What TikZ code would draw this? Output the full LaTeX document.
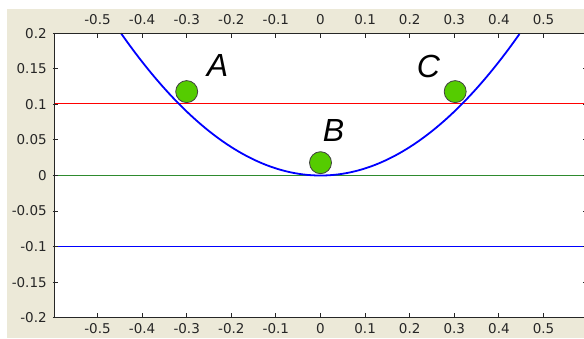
\documentclass[tikz,border=0pt]{standalone}
\usepackage{fontspec}
\setmainfont{Liberation Sans}
\newfontfamily\tickfont{DejaVu Sans}
\definecolor{beige}{HTML}{ECE9D8}
\definecolor{ballgreen}{HTML}{55CC00}
\definecolor{linegreen}{HTML}{2E8B2E}
\definecolor{linered}{HTML}{FF0000}
\definecolor{lineblue}{HTML}{0000FF}
\begin{document}
\begin{tikzpicture}[x=1pt,y=1pt,
  ticklabel/.style={font=\tickfont\fontsize{13.5}{13.5}\selectfont, inner sep=0pt, text=black!85},
  letterlabel/.style={font=\fontsize{32}{32}\selectfont\itshape, inner sep=0pt},
  ball/.style={circle, draw=black!75, line width=0.8pt, fill=ballgreen, minimum size=22pt, inner sep=0pt},
  tickline/.style={line width=1pt, draw=black!85},
  refline/.style={line width=1pt}]
\useasboundingbox (0,0) rectangle (584,-338);
\clip (0,0) rectangle (584,-338);
\fill[white] (0,0) rectangle (584,-338);
\fill[beige] (7,-9) rectangle (584,-338);
% plot area
\fill[white] (54,-33) rectangle (589,-318);
% horizontal reference lines
\draw[refline, draw=linered] (54,-103.5) -- (589,-103.5);
\draw[refline, draw=linegreen] (54,-175.5) -- (589,-175.5);
\draw[refline, draw=lineblue] (54,-246.5) -- (589,-246.5);
\begin{scope}[shift={(320.5,-175.5)}, x=446pt, y=711pt]
  \draw[draw=lineblue, line width=1.8pt, domain=-0.4472:0.4472, samples=80, smooth] plot (\x,{\x*\x});
  \foreach \v in {-0.5,-0.4,-0.3,-0.2,-0.1,0,0.1,0.2,0.3,0.4,0.5} {
    \draw[tickline] (\v,0.2) -- ++(0,-5pt);
    \draw[tickline] (\v,-0.2) -- ++(0,5pt);
    \node[ticklabel] at ([yshift=14pt]\v,0.2) {\v};
    \node[ticklabel] at ([yshift=-11pt]\v,-0.2) {\v};
  }
  \foreach \v in {-0.2,-0.15,-0.1,-0.05,0,0.05,0.1,0.15,0.2} {
    \draw[tickline] (-0.6,\v) -- ++(5pt,0);
    \draw[tickline] (0.6,\v) -- ++(-5pt,0);
    \node[ticklabel, anchor=east] at ([xshift=-6pt]-0.6,\v) {\v};
  }
  \node[ball] (ballA) at (-0.300,0.118) {};
  \node[ball] (ballB) at (0,0.018) {};
  \node[ball] (ballC) at (0.302,0.118) {};
\end{scope}
\draw[tickline] (54.5,-33.5) rectangle (588.5,-317.5);
\node[letterlabel] (labA) at (217.5,-65) {A};
\node[letterlabel] (labB) at (333.5,-130) {B};
\node[letterlabel] (labC) at (428.5,-66) {C};
\end{tikzpicture}
\end{document}
